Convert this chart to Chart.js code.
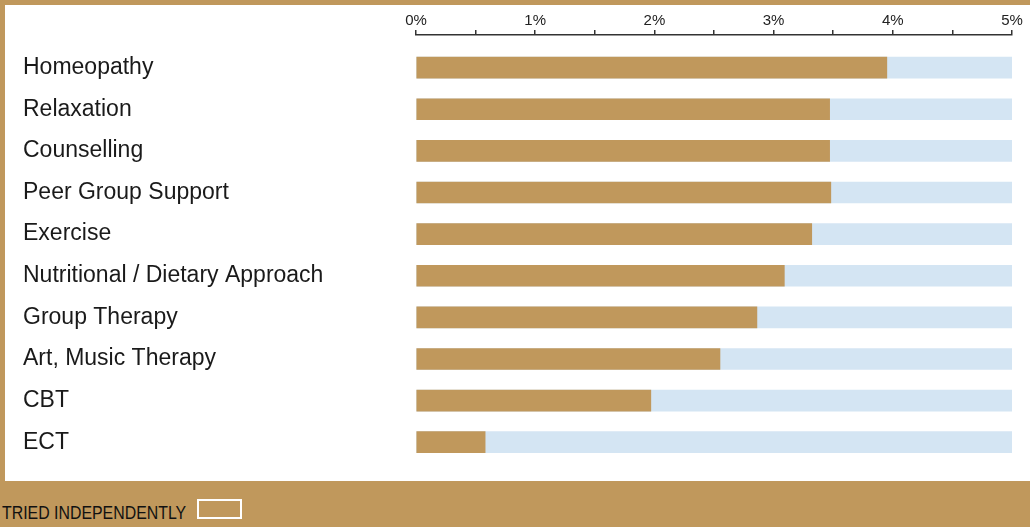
<!DOCTYPE html>
<html>
<head>
<meta charset="utf-8">
<script src="https://cdn.jsdelivr.net/npm/chart.js@4.4.1/dist/chart.umd.min.js"></script>
<style>
  html, body { margin: 0; padding: 0; }
  body { width: 1030px; height: 527px; background: #C0985C; position: relative; overflow: hidden; }
  #panel { position: absolute; left: 5px; top: 5px; width: 1025px; height: 476px; background: #ffffff; }
  #chart { display: block; }
  #legendText { position: absolute; left: 2px; top: 503px; font: 19px/19px "Liberation Sans", Arial, sans-serif; color: #111; white-space: nowrap; transform: scaleX(0.836); transform-origin: 0 0; }
  #legendBox { position: absolute; left: 197px; top: 499px; width: 45px; height: 20px; border: 2px solid #ffffff; box-sizing: border-box; }
</style>
</head>
<body>
<div id="panel"><canvas id="chart" width="1025" height="476"></canvas></div>
<div id="legendText">TRIED INDEPENDENTLY</div>
<div id="legendBox"></div>
<script>
const categories = ["Homeopathy", "Relaxation", "Counselling", "Peer Group Support", "Exercise",
  "Nutritional / Dietary Approach", "Group Therapy", "Art, Music Therapy", "CBT", "ECT"];
const triedValues = [3.95, 3.47, 3.47, 3.48, 3.32, 3.09, 2.86, 2.55, 1.97, 0.58];
const scaleMaxValues = [5, 5, 5, 5, 5, 5, 5, 5, 5, 5];
const xTickValues = [0, 1, 2, 3, 4, 5];
const xTickLabels = ["0%", "1%", "2%", "3%", "4%", "5%"];

const TAN = "#C0985C";
const BLUE = "#D4E5F3";

const ctx = document.getElementById("chart").getContext("2d");
new Chart(ctx, {
  type: "bar",
  data: {
    datasets: [
      {
        label: "Tried",
        data: triedValues.map((v, i) => ({ x: v, y: i })),
        backgroundColor: TAN,
        borderWidth: 0,
        grouped: false,
        order: 0,
        barThickness: 21
      },
      {
        label: "Scale",
        data: scaleMaxValues.map((v, i) => ({ x: v, y: i })),
        backgroundColor: BLUE,
        borderWidth: 0,
        grouped: false,
        order: 1,
        barThickness: 21
      }
    ]
  },
  options: {
    indexAxis: "y",
    responsive: false,
    devicePixelRatio: 1,
    animation: false,
    layout: { padding: { left: 18, right: 18, top: 7, bottom: 18 } },
    plugins: { legend: { display: false }, tooltip: { enabled: false } },
    scales: {
      x: {
        type: "linear",
        position: "top",
        min: 0,
        max: 5,
        ticks: {
          stepSize: 0.5,
          autoSkip: false,
          padding: 0,
          color: "#222",
          font: { family: "'Liberation Sans', Arial, sans-serif", size: 15 },
          callback: (v) => {
            const k = xTickValues.indexOf(v);
            return k >= 0 ? xTickLabels[k] : "";
          }
        },
        grid: { drawOnChartArea: false, drawTicks: true, tickLength: 5, color: "#333", lineWidth: 1.5 },
        border: { display: true, color: "#333", width: 1.5 }
      },
      y: {
        type: "linear",
        reverse: true,
        offset: false,
        min: -0.785,
        max: 9.5,
        afterFit: (scale) => { scale.width = 393; scale.paddingTop = 0; scale.paddingBottom = 0; },
        afterBuildTicks: (scale) => {
          scale.ticks = categories.map((c, i) => ({ value: i }));
        },
        ticks: {
          autoSkip: false,
          crossAlign: "far",
          padding: 0,
          color: "#1a1a1a",
          font: { family: "'Liberation Sans', Arial, sans-serif", size: 23 },
          callback: (v) => (Number.isInteger(v) && categories[v] !== undefined) ? categories[v] : ""
        },
        grid: { display: false },
        border: { display: false }
      }
    }
  }
});
</script>
</body>
</html>
